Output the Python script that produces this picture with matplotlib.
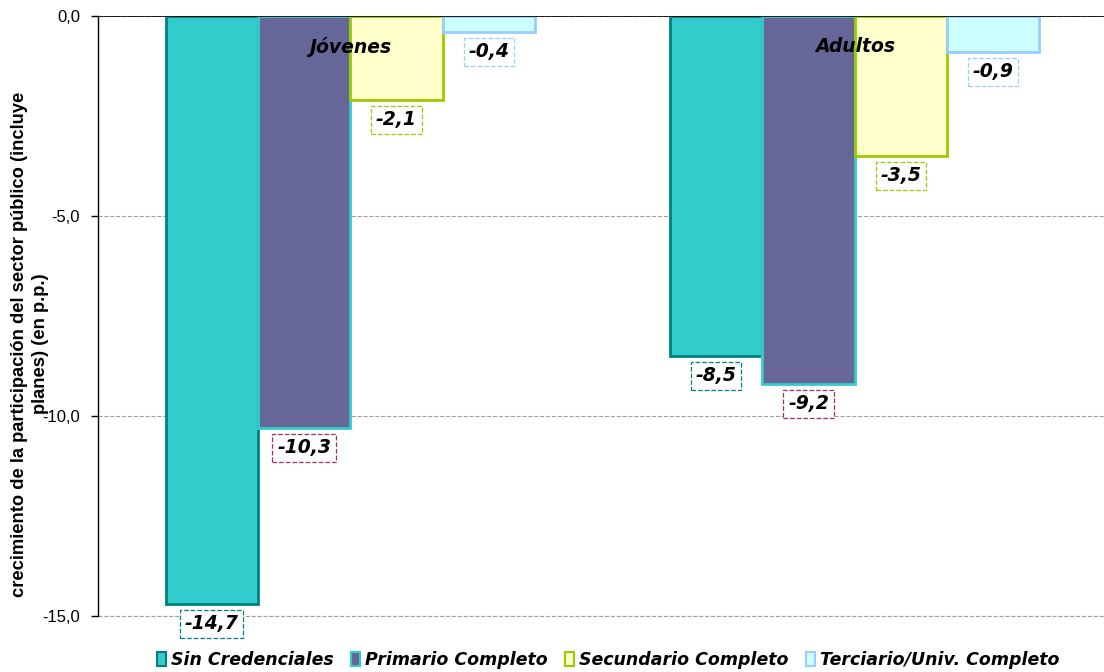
import numpy as np
import matplotlib.pyplot as plt
from matplotlib.patches import Rectangle

grupos = ['Jóvenes', 'Adultos']
series = ['Sin Credenciales', 'Primario Completo', 'Secundario Completo', 'Terciario/Univ. Completo']
valores = [
    [-14.7, -8.5],
    [-10.3, -9.2],
    [-2.1, -3.5],
    [-0.4, -0.9],
]
yticks = [0, -5, -10, -15]

relleno = ['#33CCCC', '#666699', '#FFFFCC', '#CCFFFF']
borde = ['#008080', '#33CCCC', '#99CC00', '#99CCFF']
borde_etiqueta = ['#008080', '#993366', '#99CC00', '#99CCFF']

fig = plt.figure(figsize=(11.04, 6.72), dpi=100)
ax = fig.add_axes([98 / 1104, 1 - 616 / 672, 1009 / 1104, 600 / 672])

x = np.arange(len(grupos))
ancho = 0.183
for i, (vals, fc, ec, lc) in enumerate(zip(valores, relleno, borde, borde_etiqueta)):
    pos = x + (i - 1.5) * ancho
    ax.bar(pos, vals, width=ancho, color=fc, edgecolor=ec, linewidth=2, zorder=3)
    for px, v in zip(pos, vals):
        ax.annotate(f'{v:.1f}'.replace('.', ','), xy=(px, v), xytext=(0, -20),
                    textcoords='offset pixels', ha='center', va='center',
                    fontsize=13.5, fontweight='bold', fontstyle='italic',
                    bbox=dict(boxstyle='square,pad=0.25', fc='white', ec=lc, ls='--', lw=0.9),
                    annotation_clip=False, zorder=5)

for xi, g in zip(x, grupos):
    ax.annotate(g, xy=(xi, 0), xytext=(0, -31), textcoords='offset pixels',
                ha='center', va='center', fontsize=13.5, fontweight='bold',
                fontstyle='italic', zorder=6)

ax.set_xlim(-0.5, 1.5)
ax.set_ylim(-15, 0)
ax.set_yticks(yticks)
ax.set_yticklabels([f'{t:.1f}'.replace('.', ',') for t in yticks],
                   fontsize=12, family='Liberation Sans')
ax.set_xticks([])
ax.grid(axis='y', color='#A0A0A0', linestyle='--', linewidth=0.8, zorder=0)
ax.axhline(-15, color='#A0A0A0', linestyle='--', linewidth=0.8, zorder=0, clip_on=False)
ax.axhline(0, color='black', linewidth=1.2, zorder=4)
for s in ['right', 'bottom', 'top']:
    ax.spines[s].set_visible(False)
ax.spines['left'].set_linewidth(1.0)
ax.tick_params(axis='y', length=5, width=1, pad=8)

fig.text(30 / 1104, 1 - 344 / 672,
         'crecimiento de la participación del sector público (incluye\nplanes) (en p.p.)',
         rotation=90, ha='center', va='center', multialignment='center',
         fontsize=13.2, fontweight='bold', family='Liberation Sans', linespacing=1.25)

manijas = [Rectangle((0, 0), 1, 1, fc=fc, ec=ec, lw=1.5) for fc, ec in zip(relleno, borde)]
fig.legend(manijas, series, loc='center', bbox_to_anchor=(608 / 1104, 1 - 660 / 672),
           ncol=4, frameon=False, handlelength=0.55, handleheight=0.85, handletextpad=0.25,
           columnspacing=1.0, prop=dict(size=12.5, weight='bold', style='italic'))

fig.savefig('out.png', dpi=100)
